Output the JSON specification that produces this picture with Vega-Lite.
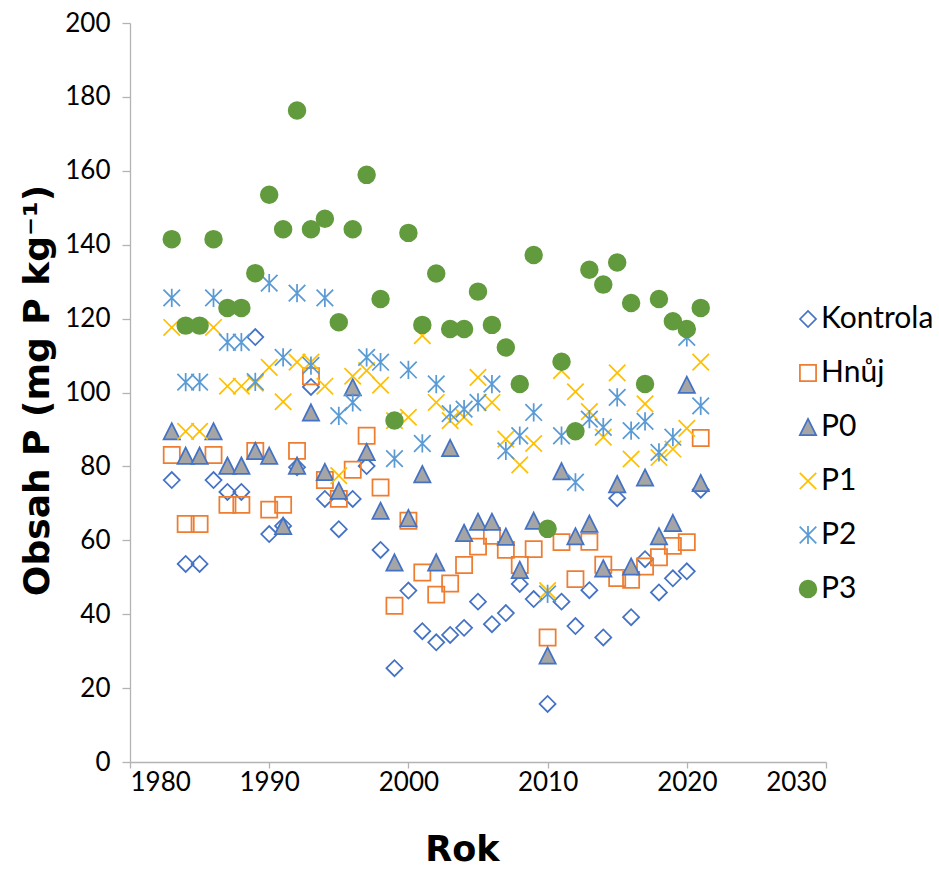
{
  "$schema": "https://vega.github.io/schema/vega-lite/v6.json",
  "width": 696,
  "height": 739,
  "autosize": {"type": "none"},
  "padding": {"left": 130, "top": 23, "right": 113, "bottom": 109},
  "background": "white",
  "config": {
    "view": {"stroke": null},
    "font": "Lato",
    "axis": {
      "grid": false,
      "domainColor": "#B3B3B3",
      "tickColor": "#B3B3B3",
      "domainWidth": 1.3,
      "tickWidth": 1.3,
      "labelFont": "Lato",
      "labelFontSize": 26,
      "labelColor": "#000000",
      "titleFont": "DejaVu Sans",
      "titleColor": "#000000",
      "titleFontWeight": "bold"
    }
  },
  "data": {
    "values": [
      {"rok": 1983, "var": "Kontrola", "p": 76.3}, {"rok": 1984, "var": "Kontrola", "p": 53.6}, {"rok": 1985, "var": "Kontrola", "p": 53.6},
      {"rok": 1986, "var": "Kontrola", "p": 76.3}, {"rok": 1987, "var": "Kontrola", "p": 73.1}, {"rok": 1988, "var": "Kontrola", "p": 73.1},
      {"rok": 1989, "var": "Kontrola", "p": 115.0}, {"rok": 1990, "var": "Kontrola", "p": 61.7}, {"rok": 1991, "var": "Kontrola", "p": 63.9},
      {"rok": 1992, "var": "Kontrola", "p": 79.8}, {"rok": 1993, "var": "Kontrola", "p": 101.5}, {"rok": 1994, "var": "Kontrola", "p": 71.2},
      {"rok": 1995, "var": "Kontrola", "p": 63.0}, {"rok": 1996, "var": "Kontrola", "p": 71.2}, {"rok": 1997, "var": "Kontrola", "p": 80.1},
      {"rok": 1998, "var": "Kontrola", "p": 57.4}, {"rok": 1999, "var": "Kontrola", "p": 25.4}, {"rok": 2000, "var": "Kontrola", "p": 46.4},
      {"rok": 2001, "var": "Kontrola", "p": 35.4}, {"rok": 2002, "var": "Kontrola", "p": 32.4}, {"rok": 2003, "var": "Kontrola", "p": 34.4},
      {"rok": 2004, "var": "Kontrola", "p": 36.3}, {"rok": 2005, "var": "Kontrola", "p": 43.4}, {"rok": 2006, "var": "Kontrola", "p": 37.3},
      {"rok": 2007, "var": "Kontrola", "p": 40.3}, {"rok": 2008, "var": "Kontrola", "p": 48.2}, {"rok": 2009, "var": "Kontrola", "p": 44.1},
      {"rok": 2010, "var": "Kontrola", "p": 15.7}, {"rok": 2011, "var": "Kontrola", "p": 43.4}, {"rok": 2012, "var": "Kontrola", "p": 36.8},
      {"rok": 2013, "var": "Kontrola", "p": 46.5}, {"rok": 2014, "var": "Kontrola", "p": 33.7}, {"rok": 2015, "var": "Kontrola", "p": 71.4},
      {"rok": 2016, "var": "Kontrola", "p": 39.2}, {"rok": 2017, "var": "Kontrola", "p": 54.9}, {"rok": 2018, "var": "Kontrola", "p": 45.9},
      {"rok": 2019, "var": "Kontrola", "p": 49.7}, {"rok": 2020, "var": "Kontrola", "p": 51.6}, {"rok": 2021, "var": "Kontrola", "p": 73.7},

      {"rok": 1983, "var": "Hnůj", "p": 83.1}, {"rok": 1984, "var": "Hnůj", "p": 64.4}, {"rok": 1985, "var": "Hnůj", "p": 64.4},
      {"rok": 1986, "var": "Hnůj", "p": 83.1}, {"rok": 1987, "var": "Hnůj", "p": 69.6}, {"rok": 1988, "var": "Hnůj", "p": 69.6},
      {"rok": 1989, "var": "Hnůj", "p": 84.2}, {"rok": 1990, "var": "Hnůj", "p": 68.3}, {"rok": 1991, "var": "Hnůj", "p": 69.6},
      {"rok": 1992, "var": "Hnůj", "p": 84.2}, {"rok": 1993, "var": "Hnůj", "p": 104.4}, {"rok": 1994, "var": "Hnůj", "p": 76.3},
      {"rok": 1995, "var": "Hnůj", "p": 71.2}, {"rok": 1996, "var": "Hnůj", "p": 79.1}, {"rok": 1997, "var": "Hnůj", "p": 88.3},
      {"rok": 1998, "var": "Hnůj", "p": 74.3}, {"rok": 1999, "var": "Hnůj", "p": 42.3}, {"rok": 2000, "var": "Hnůj", "p": 65.3},
      {"rok": 2001, "var": "Hnůj", "p": 51.3}, {"rok": 2002, "var": "Hnůj", "p": 45.3}, {"rok": 2003, "var": "Hnůj", "p": 48.3},
      {"rok": 2004, "var": "Hnůj", "p": 53.3}, {"rok": 2005, "var": "Hnůj", "p": 58.3}, {"rok": 2006, "var": "Hnůj", "p": 61.2},
      {"rok": 2007, "var": "Hnůj", "p": 57.4}, {"rok": 2008, "var": "Hnůj", "p": 53.3}, {"rok": 2009, "var": "Hnůj", "p": 57.6},
      {"rok": 2010, "var": "Hnůj", "p": 33.7}, {"rok": 2011, "var": "Hnůj", "p": 59.5}, {"rok": 2012, "var": "Hnůj", "p": 49.5},
      {"rok": 2013, "var": "Hnůj", "p": 59.6}, {"rok": 2014, "var": "Hnůj", "p": 53.4}, {"rok": 2015, "var": "Hnůj", "p": 49.8},
      {"rok": 2016, "var": "Hnůj", "p": 49.3}, {"rok": 2017, "var": "Hnůj", "p": 52.9}, {"rok": 2018, "var": "Hnůj", "p": 55.4},
      {"rok": 2019, "var": "Hnůj", "p": 58.5}, {"rok": 2020, "var": "Hnůj", "p": 59.5}, {"rok": 2021, "var": "Hnůj", "p": 87.7},

      {"rok": 1983, "var": "P0", "p": 89.5}, {"rok": 1984, "var": "P0", "p": 82.9}, {"rok": 1985, "var": "P0", "p": 82.9},
      {"rok": 1986, "var": "P0", "p": 89.5}, {"rok": 1987, "var": "P0", "p": 80.2}, {"rok": 1988, "var": "P0", "p": 80.2},
      {"rok": 1989, "var": "P0", "p": 84.2}, {"rok": 1990, "var": "P0", "p": 82.9}, {"rok": 1991, "var": "P0", "p": 63.9},
      {"rok": 1992, "var": "P0", "p": 80.2}, {"rok": 1993, "var": "P0", "p": 94.6}, {"rok": 1994, "var": "P0", "p": 78.5},
      {"rok": 1995, "var": "P0", "p": 73.4}, {"rok": 1996, "var": "P0", "p": 101.4}, {"rok": 1997, "var": "P0", "p": 83.9},
      {"rok": 1998, "var": "P0", "p": 68.0}, {"rok": 1999, "var": "P0", "p": 54.0}, {"rok": 2000, "var": "P0", "p": 66.0},
      {"rok": 2001, "var": "P0", "p": 77.9}, {"rok": 2002, "var": "P0", "p": 54.0}, {"rok": 2003, "var": "P0", "p": 85.0},
      {"rok": 2004, "var": "P0", "p": 62.0}, {"rok": 2005, "var": "P0", "p": 65.0}, {"rok": 2006, "var": "P0", "p": 65.0},
      {"rok": 2007, "var": "P0", "p": 61.0}, {"rok": 2008, "var": "P0", "p": 52.0}, {"rok": 2009, "var": "P0", "p": 65.3},
      {"rok": 2010, "var": "P0", "p": 28.8}, {"rok": 2011, "var": "P0", "p": 78.7}, {"rok": 2012, "var": "P0", "p": 61.1},
      {"rok": 2013, "var": "P0", "p": 64.5}, {"rok": 2014, "var": "P0", "p": 52.4}, {"rok": 2015, "var": "P0", "p": 75.2},
      {"rok": 2016, "var": "P0", "p": 52.9}, {"rok": 2017, "var": "P0", "p": 77.0}, {"rok": 2018, "var": "P0", "p": 61.1},
      {"rok": 2019, "var": "P0", "p": 64.7}, {"rok": 2020, "var": "P0", "p": 102.1}, {"rok": 2021, "var": "P0", "p": 75.5},

      {"rok": 1983, "var": "P1", "p": 117.6}, {"rok": 1984, "var": "P1", "p": 89.5}, {"rok": 1985, "var": "P1", "p": 89.5},
      {"rok": 1986, "var": "P1", "p": 117.6}, {"rok": 1987, "var": "P1", "p": 101.7}, {"rok": 1988, "var": "P1", "p": 101.7},
      {"rok": 1989, "var": "P1", "p": 102.5}, {"rok": 1990, "var": "P1", "p": 106.8}, {"rok": 1991, "var": "P1", "p": 97.5},
      {"rok": 1992, "var": "P1", "p": 108.2}, {"rok": 1993, "var": "P1", "p": 108.2}, {"rok": 1994, "var": "P1", "p": 101.7},
      {"rok": 1995, "var": "P1", "p": 77.5}, {"rok": 1996, "var": "P1", "p": 104.4}, {"rok": 1997, "var": "P1", "p": 105.9},
      {"rok": 1998, "var": "P1", "p": 102.0}, {"rok": 1999, "var": "P1", "p": 92.4}, {"rok": 2000, "var": "P1", "p": 93.3},
      {"rok": 2001, "var": "P1", "p": 115.4}, {"rok": 2002, "var": "P1", "p": 97.3}, {"rok": 2003, "var": "P1", "p": 92.4},
      {"rok": 2004, "var": "P1", "p": 93.3}, {"rok": 2005, "var": "P1", "p": 104.1}, {"rok": 2006, "var": "P1", "p": 97.3},
      {"rok": 2007, "var": "P1", "p": 87.4}, {"rok": 2008, "var": "P1", "p": 80.4}, {"rok": 2009, "var": "P1", "p": 86.2},
      {"rok": 2010, "var": "P1", "p": 46.4}, {"rok": 2011, "var": "P1", "p": 105.9}, {"rok": 2012, "var": "P1", "p": 100.2},
      {"rok": 2013, "var": "P1", "p": 94.8}, {"rok": 2014, "var": "P1", "p": 87.9}, {"rok": 2015, "var": "P1", "p": 105.3},
      {"rok": 2016, "var": "P1", "p": 82.0}, {"rok": 2017, "var": "P1", "p": 96.9}, {"rok": 2018, "var": "P1", "p": 82.4},
      {"rok": 2019, "var": "P1", "p": 84.7}, {"rok": 2020, "var": "P1", "p": 90.3}, {"rok": 2021, "var": "P1", "p": 108.2},

      {"rok": 1983, "var": "P2", "p": 125.6}, {"rok": 1984, "var": "P2", "p": 102.8}, {"rok": 1985, "var": "P2", "p": 102.8},
      {"rok": 1986, "var": "P2", "p": 125.6}, {"rok": 1987, "var": "P2", "p": 113.6}, {"rok": 1988, "var": "P2", "p": 113.6},
      {"rok": 1989, "var": "P2", "p": 102.9}, {"rok": 1990, "var": "P2", "p": 129.6}, {"rok": 1991, "var": "P2", "p": 109.5},
      {"rok": 1992, "var": "P2", "p": 126.9}, {"rok": 1993, "var": "P2", "p": 107.3}, {"rok": 1994, "var": "P2", "p": 125.6},
      {"rok": 1995, "var": "P2", "p": 93.7}, {"rok": 1996, "var": "P2", "p": 97.3}, {"rok": 1997, "var": "P2", "p": 109.5},
      {"rok": 1998, "var": "P2", "p": 108.2}, {"rok": 1999, "var": "P2", "p": 82.1}, {"rok": 2000, "var": "P2", "p": 106.1},
      {"rok": 2001, "var": "P2", "p": 86.2}, {"rok": 2002, "var": "P2", "p": 102.3}, {"rok": 2003, "var": "P2", "p": 94.3},
      {"rok": 2004, "var": "P2", "p": 95.5}, {"rok": 2005, "var": "P2", "p": 97.3}, {"rok": 2006, "var": "P2", "p": 102.3},
      {"rok": 2007, "var": "P2", "p": 84.2}, {"rok": 2008, "var": "P2", "p": 88.3}, {"rok": 2009, "var": "P2", "p": 94.6},
      {"rok": 2010, "var": "P2", "p": 45.5}, {"rok": 2011, "var": "P2", "p": 88.3}, {"rok": 2012, "var": "P2", "p": 75.7},
      {"rok": 2013, "var": "P2", "p": 92.8}, {"rok": 2014, "var": "P2", "p": 90.6}, {"rok": 2015, "var": "P2", "p": 98.7},
      {"rok": 2016, "var": "P2", "p": 89.7}, {"rok": 2017, "var": "P2", "p": 92.2}, {"rok": 2018, "var": "P2", "p": 83.8},
      {"rok": 2019, "var": "P2", "p": 87.9}, {"rok": 2020, "var": "P2", "p": 114.9}, {"rok": 2021, "var": "P2", "p": 96.4},

      {"rok": 1983, "var": "P3", "p": 141.5}, {"rok": 1984, "var": "P3", "p": 118.1}, {"rok": 1985, "var": "P3", "p": 118.1},
      {"rok": 1986, "var": "P3", "p": 141.5}, {"rok": 1987, "var": "P3", "p": 122.9}, {"rok": 1988, "var": "P3", "p": 122.9},
      {"rok": 1989, "var": "P3", "p": 132.3}, {"rok": 1990, "var": "P3", "p": 153.5}, {"rok": 1991, "var": "P3", "p": 144.2},
      {"rok": 1992, "var": "P3", "p": 176.3}, {"rok": 1993, "var": "P3", "p": 144.2}, {"rok": 1994, "var": "P3", "p": 147.0},
      {"rok": 1995, "var": "P3", "p": 119.0}, {"rok": 1996, "var": "P3", "p": 144.2}, {"rok": 1997, "var": "P3", "p": 158.9},
      {"rok": 1998, "var": "P3", "p": 125.3}, {"rok": 1999, "var": "P3", "p": 92.4}, {"rok": 2000, "var": "P3", "p": 143.2},
      {"rok": 2001, "var": "P3", "p": 118.3}, {"rok": 2002, "var": "P3", "p": 132.2}, {"rok": 2003, "var": "P3", "p": 117.2},
      {"rok": 2004, "var": "P3", "p": 117.2}, {"rok": 2005, "var": "P3", "p": 127.3}, {"rok": 2006, "var": "P3", "p": 118.3},
      {"rok": 2007, "var": "P3", "p": 112.2}, {"rok": 2008, "var": "P3", "p": 102.3}, {"rok": 2009, "var": "P3", "p": 137.2},
      {"rok": 2010, "var": "P3", "p": 63.1}, {"rok": 2011, "var": "P3", "p": 108.3}, {"rok": 2012, "var": "P3", "p": 89.5},
      {"rok": 2013, "var": "P3", "p": 133.2}, {"rok": 2014, "var": "P3", "p": 129.2}, {"rok": 2015, "var": "P3", "p": 135.2},
      {"rok": 2016, "var": "P3", "p": 124.2}, {"rok": 2017, "var": "P3", "p": 102.3}, {"rok": 2018, "var": "P3", "p": 125.3},
      {"rok": 2019, "var": "P3", "p": 119.3}, {"rok": 2020, "var": "P3", "p": 117.2}, {"rok": 2021, "var": "P3", "p": 122.9}
    ]
  },
  "mark": {"type": "point", "filled": true, "strokeWidth": 1.75, "opacity": 1},
  "encoding": {
    "x": {
      "field": "rok",
      "type": "quantitative",
      "scale": {"domain": [1980, 2030], "nice": false, "zero": false},
      "axis": {
        "values": [1980, 1990, 2000, 2010, 2020, 2030],
        "format": "d",
        "tickSize": 6,
        "labelPadding": 1,
        "title": "Rok",
        "titleFontSize": 35,
        "titleX": 332,
        "titleY": 87,
        "titleBaseline": "middle",
        "titleAnchor": null
      }
    },
    "y": {
      "field": "p",
      "type": "quantitative",
      "scale": {"domain": [0, 200], "nice": false},
      "axis": {
        "values": [0, 20, 40, 60, 80, 100, 120, 140, 160, 180, 200],
        "tickSize": 8,
        "labelPadding": 12,
        "title": "Obsah P (mg P kg⁻¹)",
        "titleFontSize": 36,
        "titleAngle": -90,
        "titleX": -93,
        "titleY": 367,
        "titleBaseline": "middle",
        "titleAlign": "center"
      }
    },
    "shape": {
      "field": "var",
      "type": "nominal",
      "sort": null,
      "scale": {
        "domain": ["Kontrola", "Hnůj", "P0", "P1", "P2", "P3"],
        "range": ["diamond", "square", "M0,-1L1,1L-1,1Z", "M-1,-1L1,1M-1,1L1,-1", "M-1,-1L1,1M-1,1L1,-1M0,-1.1L0,1.1", "circle"]
      },
      "legend": {
        "title": null,
        "orient": "none",
        "legendX": 663,
        "legendY": 281,
        "labelFont": "Lato",
        "labelFontSize": 30,
        "labelColor": "#000000",
        "labelOffset": -2,
        "rowPadding": 24,
        "symbolStrokeWidth": 1.75
      }
    },
    "stroke": {
      "field": "var",
      "type": "nominal",
      "sort": null,
      "scale": {
        "domain": ["Kontrola", "Hnůj", "P0", "P1", "P2", "P3"],
        "range": ["#4472C4", "#ED7D31", "#4472C4", "#FFC000", "#5B9BD5", "#629B3D"]
      },
      "legend": {"title": null}
    },
    "fill": {
      "field": "var",
      "type": "nominal",
      "sort": null,
      "scale": {
        "domain": ["Kontrola", "Hnůj", "P0", "P1", "P2", "P3"],
        "range": ["transparent", "transparent", "#A5A5A5", "transparent", "transparent", "#629B3D"]
      },
      "legend": {"title": null}
    },
    "size": {
      "field": "var",
      "type": "nominal",
      "sort": null,
      "scale": {
        "domain": ["Kontrola", "Hnůj", "P0", "P1", "P2", "P3"],
        "range": [256, 280, 240, 270, 280, 300]
      },
      "legend": {"title": null}
    }
  }
}
